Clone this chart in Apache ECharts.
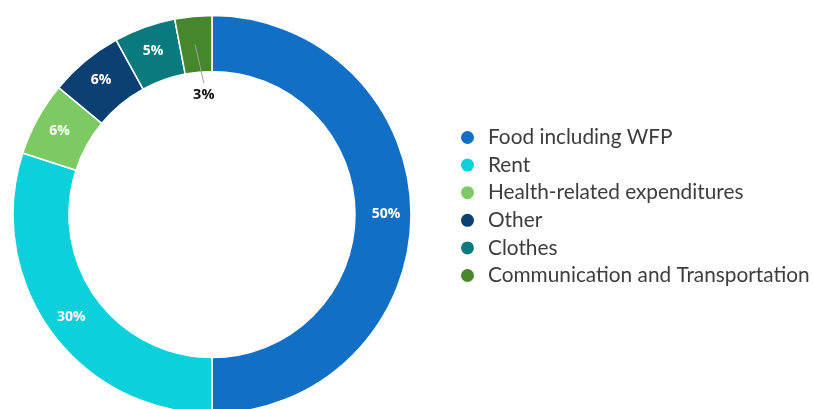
<!DOCTYPE html>
<html>
<head>
<meta charset="utf-8">
<script src="https://cdn.jsdelivr.net/npm/echarts@6/dist/echarts.min.js"></script>
<style>
html,body{margin:0;padding:0;background:#fff;}
#chart{width:813px;height:409px;}
</style>
</head>
<body>
<div id="chart"></div>
<script>
const categories = ["Food including WFP", "Rent", "Health-related expenditures", "Other", "Clothes", "Communication and Transportation"];
const values = [50, 30, 6, 6, 5, 3];
const colors = ["#116FC5", "#0CD1DA", "#7DCA63", "#0C3F72", "#097B7E", "#46862C"];
const outsideIndex = 5;

const chart = echarts.init(document.getElementById('chart'));
const mainData = categories.map((name, i) => ({
  name: name, value: values[i], itemStyle: { color: colors[i] },
  label: { show: i !== outsideIndex }
}));
const overlayData = categories.map((name, i) => {
  const item = { name: name, value: values[i], label: { show: i === outsideIndex } };
  if (i === outsideIndex) {
    item.labelLine = { show: true, showAbove: true, lineStyle: { color: '#a0a0a0', width: 1 } };
  }
  return item;
});
const pieGeom = { center: [212, 214.5], radius: [143, 199], startAngle: 90, clockwise: true };

chart.setOption({
  animation: false,
  legend: {
    orient: 'vertical',
    left: 454,
    top: 122,
    icon: 'circle',
    itemWidth: 15,
    itemHeight: 15,
    itemGap: 6.6,
    textStyle: { fontFamily: 'Lato', fontSize: 20.8, color: '#3d3d3d', lineHeight: 21, padding: [0, 0, 0, 8] },
    data: categories.map((n, i) => ({ name: n, itemStyle: { color: colors[i] } }))
  },
  series: [{
    type: 'pie',
    z: 2,
    ...pieGeom,
    avoidLabelOverlap: false,
    itemStyle: { borderColor: '#fff', borderWidth: 1.5 },
    label: {
      position: 'inside',
      formatter: '{c}%',
      color: '#fff',
      fontFamily: 'Open Sans',
      fontWeight: 'bold',
      fontSize: 14
    },
    labelLine: { show: false },
    data: mainData
  }, {
    type: 'pie',
    z: 5,
    silent: true,
    ...pieGeom,
    avoidLabelOverlap: false,
    itemStyle: { color: 'rgba(0,0,0,0)', borderWidth: 0 },
    label: {
      position: 'outside',
      formatter: '{c}%',
      color: '#111',
      fontFamily: 'Open Sans',
      fontWeight: 'bold',
      fontSize: 14.5
    },
    labelLine: { show: false },
    labelLayout: function (p) {
      if (p.dataIndex !== outsideIndex) return {};
      const r = p.rect;
      const sx = r.x + r.width * 0.55, sy = r.y + r.height * 0.5;
      const lx = r.x + r.width * 0.78, ly = r.y + r.height + 9;
      return {
        x: lx, y: ly + 12,
        align: 'center', verticalAlign: 'middle',
        labelLinePoints: [[sx, sy], [lx, ly], [lx, ly]]
      };
    },
    data: overlayData
  }]
});
</script>
</body>
</html>
